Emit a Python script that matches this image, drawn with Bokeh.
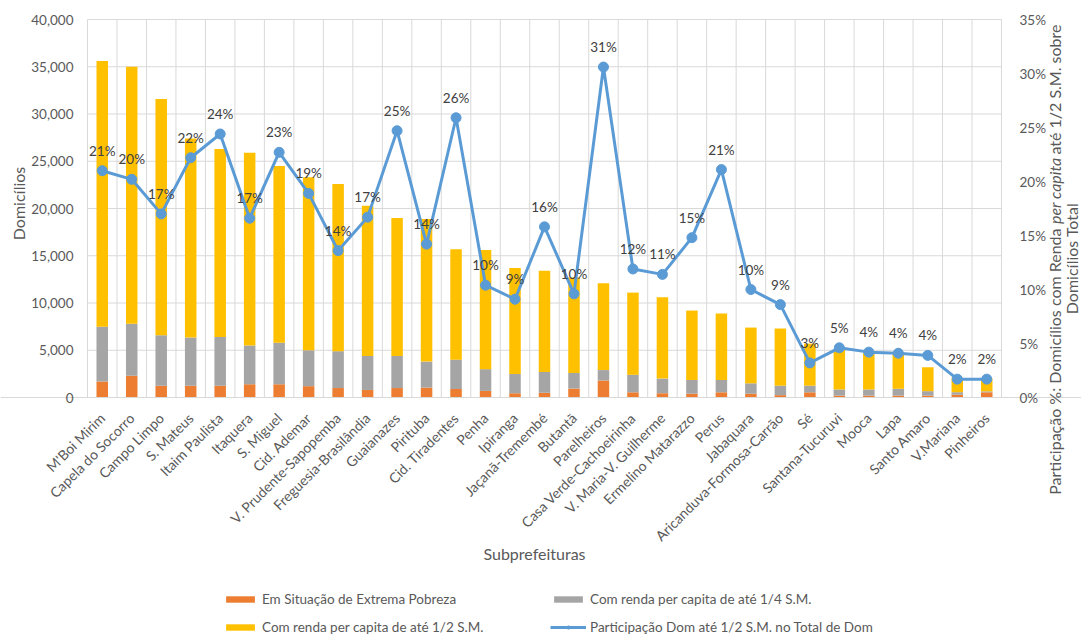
import math
from bokeh.plotting import figure
from bokeh.models import (ColumnDataSource, Range1d, LinearAxis, FixedTicker,
                          NumeralTickFormatter, PrintfTickFormatter, Legend,
                          LegendItem, Label)
from bokeh.core.properties import value
from bokeh.embed import file_html
from bokeh.resources import INLINE

# ---------------- data ----------------
categories = ["M'Boi Mirim", "Capela do Socorro", "Campo Limpo", "S. Mateus",
              "Itaim Paulista", "Itaquera", "S. Miguel", "Cid. Ademar",
              "V. Prudente-Sapopemba", "Freguesia-Brasilândia", "Guaianazes",
              "Pirituba", "Cid. Tiradentes", "Penha", "Ipiranga",
              "Jaçanã-Tremembé", "Butantã", "Parelheiros",
              "Casa Verde-Cachoeirinha", "V. Maria-V. Guilherme",
              "Ermelino Matarazzo", "Perus", "Jabaquara",
              "Aricanduva-Formosa-Carrão", "Sé", "Santana-Tucuruvi", "Mooca",
              "Lapa", "Santo Amaro", "V.Mariana", "Pinheiros"]

# households in extreme poverty
extrema = [1700, 2300, 1250, 1250, 1250, 1400, 1400, 1200, 1000, 800, 1000,
           1050, 900, 700, 450, 500, 950, 1800, 550, 450, 400, 550, 400, 250,
           550, 200, 200, 200, 200, 300, 550]
# households with per capita income up to 1/4 S.M. (cumulative level)
ate_um_quarto = [7500, 7800, 6600, 6350, 6400, 5500, 5800, 5000, 4900, 4400,
                 4400, 3800, 4000, 3000, 2500, 2700, 2600, 2900, 2400, 2000,
                 1850, 1850, 1500, 1250, 1250, 850, 850, 920, 670, 560, 650]
# households with per capita income up to 1/2 S.M. (cumulative level)
ate_meio = [35600, 35000, 31600, 27400, 26300, 25900, 24500, 23300, 22600,
            20300, 19000, 18900, 15700, 15600, 13700, 13400, 12700, 12100,
            11100, 10600, 9200, 8900, 7400, 7300, 5700, 5100, 4700, 4600,
            3200, 2100, 2000]
# share (%) of households up to 1/2 S.M. in total households
participacao = [21.0, 20.2, 17.0, 22.2, 24.4, 16.6, 22.7, 18.9, 13.6, 16.7,
                24.7, 14.2, 25.9, 10.4, 9.1, 15.8, 9.6, 30.6, 11.9, 11.4,
                14.8, 21.1, 10.0, 8.6, 3.2, 4.6, 4.2, 4.1, 3.9, 1.7, 1.7]

left_ticks = [0, 5000, 10000, 15000, 20000, 25000, 30000, 35000, 40000]
right_ticks = [0, 5, 10, 15, 20, 25, 30, 35]

# ---------------- layout (pixels) ----------------
CW, CH = 1081, 636                    # canvas
PL, PR, PT, PB = 87, 1001, 19, 397    # plot-area box inside the canvas

# ---------------- style ----------------
FONT = "Lato"
ORANGE = "#ED7D31"
GREY = "#A5A5A5"
YELLOW = "#FFC000"
BLUE = "#5B9BD5"
GRID = "#D9D9D9"
TXT = "#595959"

n = len(categories)
xs = list(range(n))

# ranges chosen so that the plot area lands on the PL..PR / PT..PB box while
# the drawing frame covers the whole canvas (so titles and legend are not clipped)
cat_px = (PR - PL) / n
x0 = -0.5 - PL / cat_px
x1 = -0.5 + (CW - PL) / cat_px
ymax_l, ymax_r = left_ticks[-1], right_ticks[-1]
kl = ymax_l / (PB - PT)
kr = ymax_r / (PB - PT)

src = ColumnDataSource(dict(
    x=xs, extrema=extrema, quarto=ate_um_quarto, meio=ate_meio,
    pct=participacao, lbl=[f"{v:.0f}%" for v in participacao]))

p = figure(width=CW, height=CH, output_backend="svg", toolbar_location=None,
           x_range=Range1d(x0, x1),
           y_range=Range1d(-(CH - PB) * kl, ymax_l + PT * kl),
           min_border=0, x_axis_location=None, y_axis_location=None)
p.min_border_left = p.min_border_right = 0
p.min_border_top = p.min_border_bottom = 0
p.outline_line_color = None
p.border_fill_color = "white"
p.background_fill_color = "white"
p.grid.visible = False
p.extra_y_ranges = {"pct": Range1d(-(CH - PB) * kr, ymax_r + PT * kr)}

# grid lines limited to the plot area
bounds = [i - 0.5 for i in range(n + 1)]
p.segment(x0=bounds, y0=[0] * len(bounds), x1=bounds,
          y1=[ymax_l] * len(bounds), line_color=GRID, line_width=1)
p.segment(x0=[-0.5] * len(left_ticks), y0=left_ticks,
          x1=[n - 0.5] * len(left_ticks), y1=left_ticks,
          line_color=GRID, line_width=1)

# axes drawn at fixed locations on the plot-area box
xa = LinearAxis(ticker=FixedTicker(ticks=xs), fixed_location=0)
xa.major_label_overrides = {i: c for i, c in enumerate(categories)}
xa.major_label_orientation = math.pi / 4
xa.major_tick_line_color = None
xa.minor_tick_line_color = None
xa.axis_line_color = GRID
xa.major_label_text_font = FONT
xa.major_label_text_font_size = "14px"
xa.major_label_text_color = TXT
xa.major_label_standoff = 12
p.add_layout(xa, "below")

ya = LinearAxis(ticker=FixedTicker(ticks=left_ticks), fixed_location=-0.5,
                formatter=NumeralTickFormatter(format="0,0"))
ya.axis_line_color = None
ya.major_tick_line_color = None
ya.minor_tick_line_color = None
ya.major_label_text_font = FONT
ya.major_label_text_font_size = "13.5px"
ya.major_label_text_color = TXT
ya.major_label_standoff = 8
p.add_layout(ya, "left")

ra = LinearAxis(y_range_name="pct", ticker=FixedTicker(ticks=right_ticks),
                fixed_location=n - 0.5,
                formatter=PrintfTickFormatter(format="%d%%"))
ra.axis_line_color = None
ra.major_tick_line_color = None
ra.minor_tick_line_color = None
ra.major_label_text_font = FONT
ra.major_label_text_font_size = "13.5px"
ra.major_label_text_color = TXT
ra.major_label_standoff = 12
p.add_layout(ra, "right")

BW = 0.39
r1 = p.vbar(x="x", bottom=0, top="extrema", width=BW, source=src,
            fill_color=ORANGE, line_color=None)
r2 = p.vbar(x="x", bottom="extrema", top="quarto", width=BW, source=src,
            fill_color=GREY, line_color=None)
r3 = p.vbar(x="x", bottom="quarto", top="meio", width=BW, source=src,
            fill_color=YELLOW, line_color=None)
rl = p.line(x="x", y="pct", source=src, y_range_name="pct",
            line_color=BLUE, line_width=3)
rc = p.scatter(x="x", y="pct", source=src, y_range_name="pct",
               marker="circle", size=10, fill_color=BLUE, line_color=BLUE)
p.text(x="x", y="pct", text="lbl", source=src, y_range_name="pct",
       y_offset=-20, text_align="center", text_baseline="middle",
       text_font=value(FONT), text_font_size="13.5px", text_color="#404040")

# legend
legend = Legend(items=[
    LegendItem(label="Em Situação de Extrema Pobreza", renderers=[r1]),
    LegendItem(label="Com renda per capita de até 1/4 S.M.", renderers=[r2]),
    LegendItem(label="Com renda per capita de até 1/2 S.M.", renderers=[r3]),
    LegendItem(label="Participação Dom até 1/2 S.M. no Total de Dom",
               renderers=[rl, rc]),
], location=(222, 0), orientation="horizontal", ncols=2)
legend.background_fill_alpha = 0
legend.border_line_color = None
legend.padding = 0
legend.margin = 0
legend.glyph_width = 36
legend.glyph_height = 8
legend.label_height = 18
legend.label_width = 278
legend.spacing = 10
legend.label_standoff = 4
legend.label_text_font = FONT
legend.label_text_font_size = "13.5px"
legend.label_text_color = TXT
p.add_layout(legend)


# titles (screen units; the frame covers the whole canvas, origin bottom-left)
def title(text, cx, cy, angle=0.0, align="center", style="normal", size="16px"):
    p.add_layout(Label(x=cx, y=CH - cy, x_units="screen", y_units="screen",
                       text=text, angle=angle, text_align=align,
                       text_baseline="middle", text_font=FONT,
                       text_font_size=size, text_color=TXT,
                       text_font_style=style))


V = math.pi / 2
title("Domicílios", 18, 203, angle=V)
title("Subprefeituras", 534, 553)
title("até 1/2 S.M. sobre", 1054, 24, angle=V, align="right")
title("per capita", 1054, 157, angle=V, align="right", style="italic")
title("Participação %: Domicílios com Renda", 1054, 228, angle=V,
      align="right")
title("Domicílios Total", 1071, 258, angle=V)

open("out.html", "w").write(file_html(p, INLINE))
